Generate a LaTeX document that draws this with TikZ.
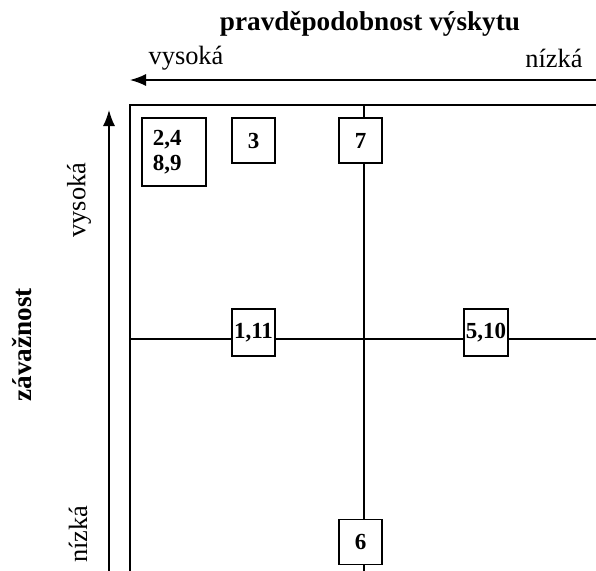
\documentclass[tikz,border=0pt]{standalone}
\usepackage{fontspec}
\setmainfont{Liberation Serif}
\usetikzlibrary{arrows.meta}
\tikzset{
    %Define standard arrow tip
    >={Latex[length=8pt,width=6pt]},
    %Define style for risk boxes
    risk/.style={
           rectangle,
           draw=black, line width=0.8pt,
           fill=white,
           inner sep=1pt,
           minimum width=21.5pt,
           minimum height=22.5pt,
           font=\fontsize{11.5}{12.5}\selectfont\bfseries,
           text centered},
    axislabel/.style={
           font=\fontsize{13.2}{15}\selectfont},
    axistitle/.style={
           font=\fontsize{13.6}{15}\selectfont\bfseries},
    % Define line styles
    axis/.style={
           ->,
           line width=0.7pt},
    grid/.style={
           line width=0.8pt}
}

\begin{document}
\begin{tikzpicture}[x=0.5pt,y=-0.5pt]
\useasboundingbox (0,0) rectangle (596,570);
\clip (0,0) rectangle (596,570);

% frame and quadrant lines
\coordinate (tl) at (130,105);
\coordinate (tr) at (600,105);
\coordinate (bl) at (130,575);
\coordinate (vtop) at (364,105);
\coordinate (vbot) at (364,575);
\coordinate (hleft) at (130,339);
\coordinate (hright) at (600,339);

\draw[grid] (tr) -- (tl) -- (bl);
\draw[grid] (vtop) -- (vbot);
\draw[grid] (hleft) -- (hright);

% axes
\coordinate (xstart) at (600,80);
\coordinate (xend) at (130,80);
\coordinate (ystart) at (109,575);
\coordinate (yend) at (109,110);

\draw[axis] (xstart) -- (xend);
\draw[axis] (ystart) -- (yend);

\node[axistitle] (prob) at (370,24) {pravděpodobnost výskytu};
\node[axislabel] (phigh) at (186,58) {vysoká};
\node[axislabel] (plow) at (554,58) {nízká};

\node[axistitle, rotate=90] (sev) at (22,345) {závažnost};
\node[axislabel, rotate=90] (shigh) at (79,200) {vysoká};
\node[axislabel, rotate=90] (slow) at (78,534) {nízká};

% risks
\node[risk, align=left, text width=21pt, minimum width=32pt, minimum height=34pt, inner xsep=5pt] (r2489) at (174,152) {2,4\\8,9};
\node[risk] (r3) at (253.5,140.5) {3};
\node[risk] (r7) at (360.5,140.5) {7};
\node[risk, minimum height=23.5pt] (r111) at (253.5,332.5) {1,11};
\node[risk, minimum height=23.5pt] (r510) at (486,332.5) {5,10};
\node[risk] (r6) at (360.5,542) {6};
\end{tikzpicture}
\end{document}
